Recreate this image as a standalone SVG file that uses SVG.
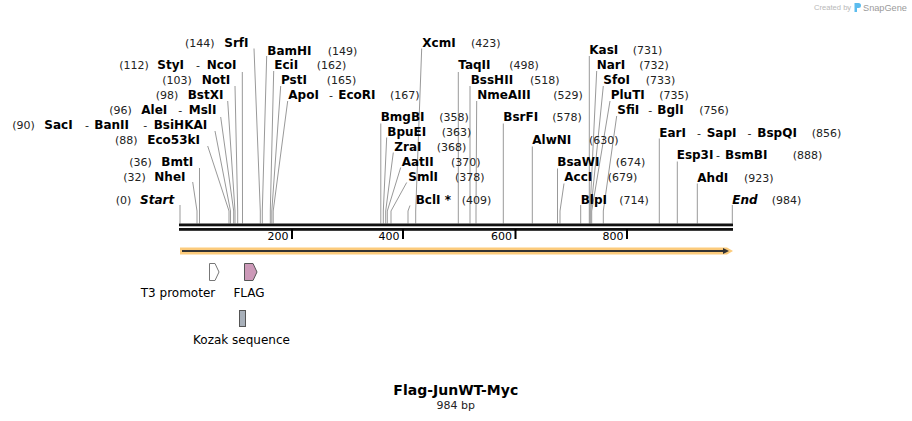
<svg xmlns="http://www.w3.org/2000/svg" width="912" height="421" viewBox="0 0 912 421">
<style>
.n{font-family:"DejaVu Sans",Verdana,sans-serif;font-size:12px;font-weight:bold;fill:#000}
.i{font-style:italic}
.p{font-family:"DejaVu Sans",Verdana,sans-serif;font-size:11px;fill:#222}
.t{font-family:"DejaVu Sans",Verdana,sans-serif;font-size:12px;fill:#000}
.ln{stroke:#999;stroke-width:1;fill:none}
.tk{fill:#000}
.tl{font-family:"DejaVu Sans",Verdana,sans-serif;font-size:11px;fill:#000;text-anchor:end}
</style>
<rect width="912" height="421" fill="#fff"/>

<g id="watermark">
<text x="814" y="10" font-family="Liberation Sans,Arial,sans-serif" font-size="7.6" fill="#b8b8b8">Created by</text>
<path d="M854.5,3 h4 a2.5,2.5 0 0 1 0,5 h-1.5 v4 h-2.5 z" fill="#5bbcee"/>
<text x="863" y="11" font-family="Liberation Sans,Arial,sans-serif" font-size="9.2" fill="#9a9a9a">SnapGene</text>
</g>

<g id="connectors">
<polyline class="ln" points="180,205 180,223.5"/>
<polyline class="ln" points="192.7,182 197,211 197,223.5"/>
<polyline class="ln" points="199.5,168 199.5,223.5"/>
<polyline class="ln" points="207.7,146 229,211 229,223.5"/>
<polyline class="ln" points="215,131 230.5,211 230.5,223.5"/>
<polyline class="ln" points="220.7,117 233.7,211 233.7,223.5"/>
<polyline class="ln" points="227.7,101 235,211 235,223.5"/>
<polyline class="ln" points="235,86 237.7,211 237.7,223.5"/>
<polyline class="ln" points="242.3,72 242.5,211 242.5,223.5"/>
<polyline class="ln" points="254,48.5 260.3,211 260.3,223.5"/>
<polyline class="ln" points="266.7,56 262.3,211 262.3,223.5"/>
<polyline class="ln" points="273.7,71 270.3,211 270.3,223.5"/>
<polyline class="ln" points="280.7,86 271.8,211 271.8,223.5"/>
<polyline class="ln" points="287.7,101 273.2,211 273.2,223.5"/>
<polyline class="ln" points="421.7,48.5 415.7,211 415.7,223.5"/>
<polyline class="ln" points="458.3,72 458.3,223.5"/>
<polyline class="ln" points="470,86 470,223.5"/>
<polyline class="ln" points="476.7,101 476,211 476,223.5"/>
<polyline class="ln" points="380.8,123.5 380.8,223.5"/>
<polyline class="ln" points="386.7,137.5 383.3,211 383.3,223.5"/>
<polyline class="ln" points="393.3,152.5 385.7,211 385.7,223.5"/>
<polyline class="ln" points="400.7,167.5 387.3,211 387.3,223.5"/>
<polyline class="ln" points="406.7,182.5 391,211 391,223.5"/>
<polyline class="ln" points="410,205.5 408,211 408,223.5"/>
<polyline class="ln" points="503.3,123.5 503.3,223.5"/>
<polyline class="ln" points="532.3,146.5 532.3,223.5"/>
<polyline class="ln" points="557.5,168.5 557.5,223.5"/>
<polyline class="ln" points="564,183.5 560,211 560,223.5"/>
<polyline class="ln" points="580.7,205 580.7,223.5"/>
<polyline class="ln" points="589.3,56 589.3,223.5"/>
<polyline class="ln" points="596.7,71 590,211 590,223.5"/>
<polyline class="ln" points="603.3,86 590.8,211 590.8,223.5"/>
<polyline class="ln" points="610,101 591.7,211 591.7,223.5"/>
<polyline class="ln" points="616.7,116 603.3,211 603.3,223.5"/>
<polyline class="ln" points="659.3,138.5 659.3,223.5"/>
<polyline class="ln" points="677.3,161.5 677.3,223.5"/>
<polyline class="ln" points="697.3,183.5 697.3,223.5"/>
<polyline class="ln" points="732.3,205 732.3,223.5"/>
</g>

<g id="backbone">
<rect x="179" y="223.5" width="554" height="2.8" fill="#111"/>
<rect x="179" y="228" width="554" height="2.8" fill="#111"/>
<rect class="tk" x="291" y="229" width="2" height="10"/>
<rect class="tk" x="402" y="229" width="2" height="10"/>
<rect class="tk" x="514.5" y="229" width="2" height="10"/>
<rect class="tk" x="626" y="229" width="2" height="10"/>
<text class="tl" x="288.5" y="240">200</text>
<text class="tl" x="399.5" y="240">400</text>
<text class="tl" x="512" y="240">600</text>
<text class="tl" x="623.5" y="240">800</text>
</g>

<g id="orf">
<path d="M180,247.5 H727 L733,251 L727,254.5 H180 Z" fill="#fccb7c"/>
<line x1="182" y1="251" x2="724" y2="251" stroke="#333" stroke-width="2"/>
<path d="M723,248 L729,251 L723,254 Z" fill="#333"/>
</g>

<g id="t3-promoter">
<path d="M209.5,263.5 H215 L219,272 L215,280.5 H209.5 Z" fill="#fff" stroke="#777" stroke-width="1"/>
<text class="t" x="178" y="297" text-anchor="middle">T3 promoter</text>
</g>
<g id="flag">
<path d="M244.5,263.5 H253 L257,272 L253,280.5 H244.5 Z" fill="#cc99b8" stroke="#555" stroke-width="1"/>
<text class="t" x="249" y="297" text-anchor="middle">FLAG</text>
</g>
<g id="kozak">
<rect x="239.5" y="310.5" width="6" height="16" fill="#a8b0ba" stroke="#555" stroke-width="1"/>
<text class="t" x="241.5" y="344" text-anchor="middle">Kozak sequence</text>
</g>

<g id="site-start"><text class="p" x="115.7" y="203.7">(0)</text><text class="n i" x="140" y="203.7">Start</text></g>
<g id="site-nhei"><text class="p" x="123.3" y="181">(32)</text><text class="n" x="154.3" y="181">NheI</text></g>
<g id="site-bmti"><text class="p" x="129.3" y="166">(36)</text><text class="n" x="161.3" y="166">BmtI</text></g>
<g id="site-eco53ki"><text class="p" x="115" y="144.4">(88)</text><text class="n" x="147.3" y="144.4">Eco53kI</text></g>
<g id="site-saci"><text class="p" x="12.3" y="129.4">(90)</text><text class="n" x="44.3" y="129.4">SacI</text><text class="p" x="85" y="129.4">-</text><text class="n" x="94.3" y="129.4">BanII</text><text class="p" x="143.3" y="129.4">-</text><text class="n" x="153.7" y="129.4">BsiHKAI</text></g>
<g id="site-alei"><text class="p" x="109.3" y="114.4">(96)</text><text class="n" x="141.3" y="114.4">AleI</text><text class="p" x="178.3" y="114.4">-</text><text class="n" x="188.7" y="114.4">MslI</text></g>
<g id="site-bstxi"><text class="p" x="155.7" y="99.4">(98)</text><text class="n" x="187.7" y="99.4">BstXI</text></g>
<g id="site-noti"><text class="p" x="162.3" y="84.4">(103)</text><text class="n" x="201.7" y="84.4">NotI</text></g>
<g id="site-styi"><text class="p" x="119.3" y="68.7">(112)</text><text class="n" x="157.3" y="68.7">StyI</text><text class="p" x="196" y="68.7">-</text><text class="n" x="206.7" y="68.7">NcoI</text></g>
<g id="site-srfi"><text class="p" x="185" y="47">(144)</text><text class="n" x="224.3" y="47">SrfI</text></g>
<g id="site-bamhi"><text class="n" x="267.3" y="55">BamHI</text><text class="p" x="327.7" y="55">(149)</text></g>
<g id="site-ecii"><text class="n" x="274.3" y="68.7">EciI</text><text class="p" x="316.7" y="68.7">(162)</text></g>
<g id="site-psti"><text class="n" x="281" y="84.4">PstI</text><text class="p" x="326.7" y="84.4">(165)</text></g>
<g id="site-apoi"><text class="n" x="288.3" y="99.4">ApoI</text><text class="p" x="329" y="99.4">-</text><text class="n" x="338.3" y="99.4">EcoRI</text><text class="p" x="390" y="99.4">(167)</text></g>

<g id="site-xcmi"><text class="n" x="422.3" y="47">XcmI</text><text class="p" x="471" y="47">(423)</text></g>
<g id="site-taqii"><text class="n" x="458.3" y="68.7">TaqII</text><text class="p" x="509.3" y="68.7">(498)</text></g>
<g id="site-bsshii"><text class="n" x="470.7" y="84.4">BssHII</text><text class="p" x="530" y="84.4">(518)</text></g>
<g id="site-nmeaiii"><text class="n" x="477.3" y="99.4">NmeAIII</text><text class="p" x="553.3" y="99.4">(529)</text></g>
<g id="site-bmgbi"><text class="n" x="380.7" y="121.4">BmgBI</text><text class="p" x="439.3" y="121.4">(358)</text></g>
<g id="site-bpuei"><text class="n" x="387.3" y="136">BpuEI</text><text class="p" x="441.7" y="136">(363)</text></g>
<g id="site-zrai"><text class="n" x="394.3" y="151">ZraI</text><text class="p" x="436.7" y="151">(368)</text></g>
<g id="site-aatii"><text class="n" x="401.7" y="166">AatII</text><text class="p" x="451" y="166">(370)</text></g>
<g id="site-smli"><text class="n" x="408.3" y="181">SmlI</text><text class="p" x="455" y="181">(378)</text></g>
<g id="site-bcli"><text class="n" x="415.7" y="203.7">BclI *</text><text class="p" x="461.7" y="203.7">(409)</text></g>
<g id="site-bsrfi"><text class="n" x="503.3" y="121.4">BsrFI</text><text class="p" x="552.3" y="121.4">(578)</text></g>
<g id="site-alwni"><text class="n" x="532.3" y="144.4">AlwNI</text><text class="p" x="589" y="144.4">(630)</text></g>
<g id="site-bsawi"><text class="n" x="557.3" y="166.4">BsaWI</text><text class="p" x="615.7" y="166.4">(674)</text></g>
<g id="site-acci"><text class="n" x="564.3" y="181">AccI</text><text class="p" x="607.7" y="181">(679)</text></g>
<g id="site-blpi"><text class="n" x="580.7" y="203.7">BlpI</text><text class="p" x="619.3" y="203.7">(714)</text></g>
<g id="site-kasi"><text class="n" x="589.3" y="54.4">KasI</text><text class="p" x="632.7" y="54.4">(731)</text></g>
<g id="site-nari"><text class="n" x="596.7" y="68.7">NarI</text><text class="p" x="639.3" y="68.7">(732)</text></g>
<g id="site-sfoi"><text class="n" x="603.3" y="84.4">SfoI</text><text class="p" x="645.7" y="84.4">(733)</text></g>
<g id="site-pluti"><text class="n" x="610.7" y="99.4">PluTI</text><text class="p" x="659.3" y="99.4">(735)</text></g>
<g id="site-sfii"><text class="n" x="617.3" y="114.4">SfiI</text><text class="p" x="648.3" y="114.4">-</text><text class="n" x="657.3" y="114.4">BglI</text><text class="p" x="699.3" y="114.4">(756)</text></g>
<g id="site-eari"><text class="n" x="659.3" y="136.7">EarI</text><text class="p" x="697" y="136.7">-</text><text class="n" x="706.7" y="136.7">SapI</text><text class="p" x="747.5" y="136.7">-</text><text class="n" x="757.3" y="136.7">BspQI</text><text class="p" x="811.7" y="136.7">(856)</text></g>
<g id="site-esp3i"><text class="n" x="676.7" y="158.7">Esp3I</text><text class="p" x="716" y="158.7">-</text><text class="n" x="725" y="158.7">BsmBI</text><text class="p" x="792.7" y="158.7">(888)</text></g>
<g id="site-ahdi"><text class="n" x="697.3" y="182">AhdI</text><text class="p" x="744" y="182">(923)</text></g>
<g id="site-end"><text class="n i" x="732.3" y="203.7">End</text><text class="p" x="771.7" y="203.7">(984)</text></g>

<g id="title">
<text x="455.8" y="395" text-anchor="middle" font-family="DejaVu Sans,Verdana,sans-serif" font-size="14" font-weight="bold" fill="#000">Flag-JunWT-Myc</text>
<text x="455.8" y="408.5" text-anchor="middle" font-family="DejaVu Sans,Verdana,sans-serif" font-size="11" fill="#222">984 bp</text>
</g>
</svg>
